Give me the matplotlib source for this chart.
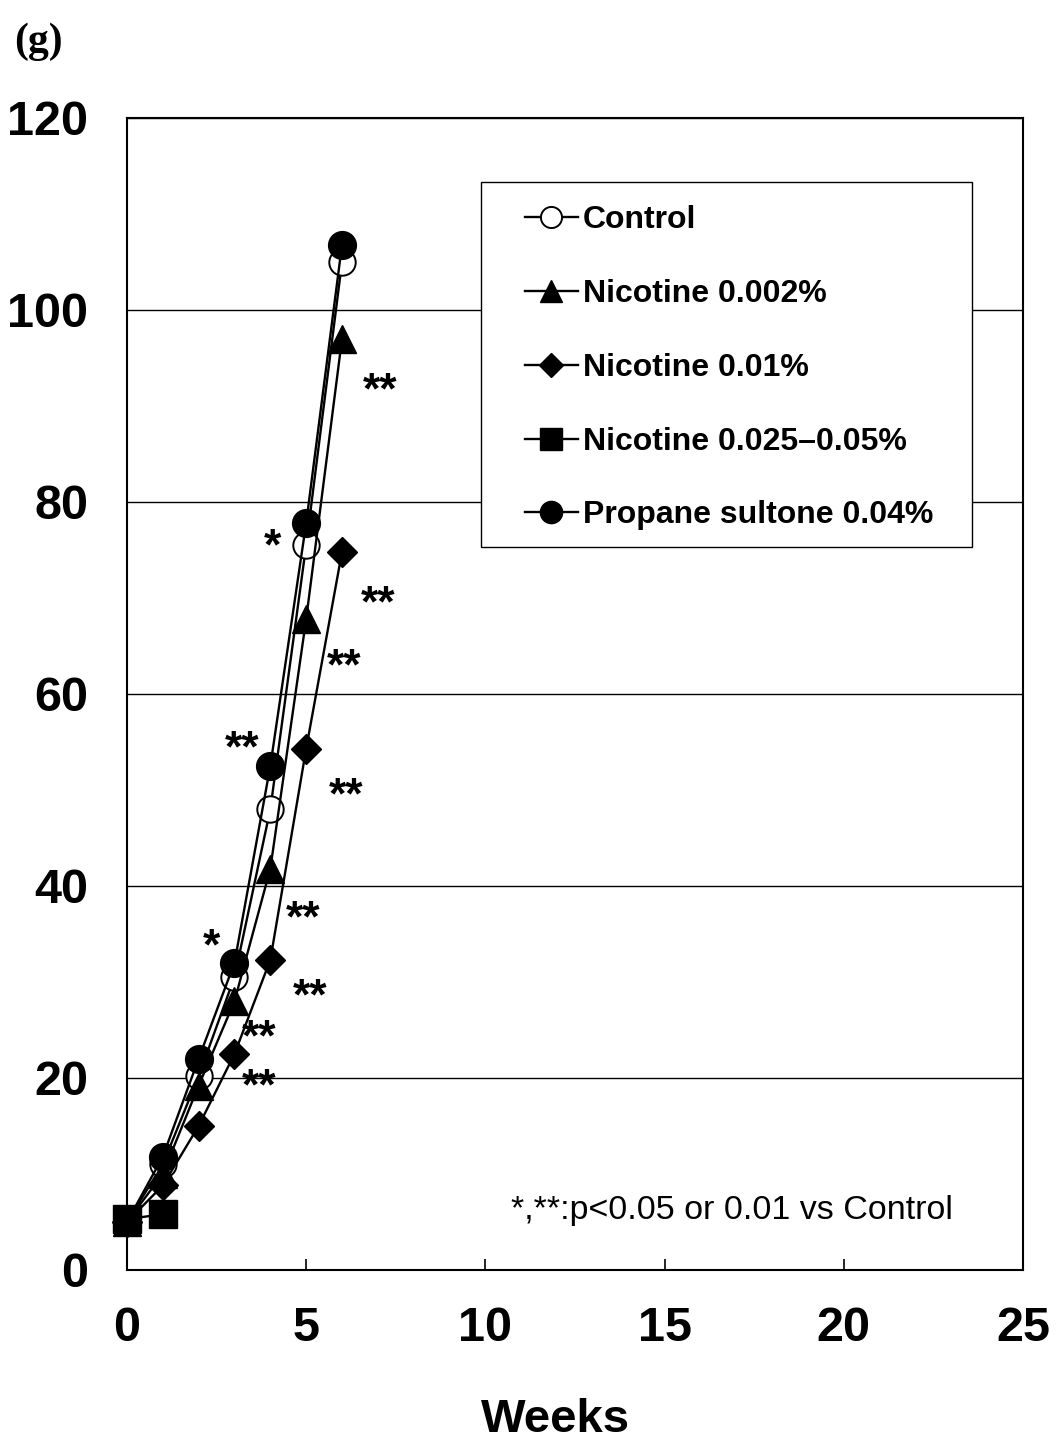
import matplotlib
matplotlib.use("Agg")
import matplotlib.pyplot as plt
from matplotlib.patches import Rectangle

# body weight (g) by week
weeks = [0, 1, 2, 3, 4, 5, 6]
control = [5.0, 11.0, 20.2, 30.5, 48.0, 75.5, 105.0]
nic_0002 = [5.0, 10.0, 19.2, 28.0, 41.8, 67.8, 97.0]
nic_001 = [5.0, 8.8, 15.0, 22.5, 32.3, 54.3, 74.8]
nic_hi_weeks = [0, 1]
nic_hi = [5.3, 5.8]
propane = [5.0, 11.8, 22.0, 32.0, 52.5, 77.8, 106.8]

labels = ["Control", "Nicotine 0.002%", "Nicotine 0.01%",
          "Nicotine 0.025\u20130.05%", "Propane sultone 0.04%"]

# significance marks: (text, week, weight)
sig_marks = [("**", 7.05, 92.7), ("*", 4.05, 76.4), ("**", 7.0, 70.5),
             ("**", 6.05, 63.9), ("**", 3.2, 55.4), ("**", 6.1, 50.5),
             ("**", 4.9, 37.7), ("*", 2.35, 34.7), ("**", 5.1, 29.5),
             ("**", 3.7, 25.3), ("**", 3.7, 20.2)]

plt.rcParams['font.family'] = ['Liberation Sans', 'DejaVu Sans']

fig = plt.figure(figsize=(10.59, 14.41), dpi=100)
ax = fig.add_axes([0.1199, 0.1187, 0.8461, 0.7995])

lw = 1.7
ax.plot(weeks, control, '-o', color='black', mfc='white', mec='black',
        mew=1.4, ms=19, lw=lw, label=labels[0], zorder=3, clip_on=False)
ax.plot(weeks, nic_0002, '-^', color='black', ms=20, lw=lw, label=labels[1],
        zorder=3, clip_on=False)
ax.plot(weeks, nic_001, '-D', color='black', ms=15, lw=lw, label=labels[2],
        zorder=3, clip_on=False)
ax.plot(nic_hi_weeks, nic_hi, '-s', color='black', ms=20, lw=lw, label=labels[3],
        zorder=3, clip_on=False)
ax.plot(weeks, propane, '-o', color='black', ms=20, lw=lw, label=labels[4],
        zorder=4, clip_on=False)

# asterisks sit high in the font, so shift them down a little
for txt, x, y in sig_marks:
    ax.text(x, y - 1.2, txt, fontsize=32, fontweight='bold', ha='center', va='center')

ax.text(23.05, 6.2, "*,**:p<0.05 or 0.01 vs Control", fontsize=24.5,
        ha='right', va='center')

ax.set_xlim(0, 25)
ax.set_ylim(0, 120)
ax.set_xticks([0, 5, 10, 15, 20, 25])
ax.set_yticks([0, 20, 40, 60, 80, 100, 120])
ax.grid(axis='y', color='black', lw=1.0)
ax.set_axisbelow(True)
for s in ax.spines.values():
    s.set_linewidth(1.5)
ax.tick_params(axis='x', direction='in', length=8, width=1.2, pad=26,
               labelsize=35)
ax.tick_params(axis='y', direction='in', length=0, pad=28, labelsize=35)
for t in ax.get_xticklabels() + ax.get_yticklabels():
    t.set_fontweight('bold')

fig.text(0.525, 0.0146, "Weeks", fontsize=34, fontweight='bold',
         ha='center', va='center')
fig.text(0.013, 0.971, "(g)", fontsize=30, fontweight='bold',
         family=['Liberation Serif', 'DejaVu Serif'], va='center')

# legend box drawn separately so the side padding matches
ax.add_patch(Rectangle((0.395, 0.6276), 0.548, 0.3168, transform=ax.transAxes,
                       facecolor='white', edgecolor='black', lw=1.0, zorder=5))
leg = ax.legend(loc='upper left', bbox_to_anchor=(0.444, 0.924),
                prop={'weight': 'bold', 'size': 23},
                frameon=False, handlelength=1.66, handletextpad=0.15,
                labelspacing=1.37, borderpad=0, borderaxespad=0,
                markerscale=0.8)
leg.set_zorder(6)

fig.savefig("out.png", dpi=100)
